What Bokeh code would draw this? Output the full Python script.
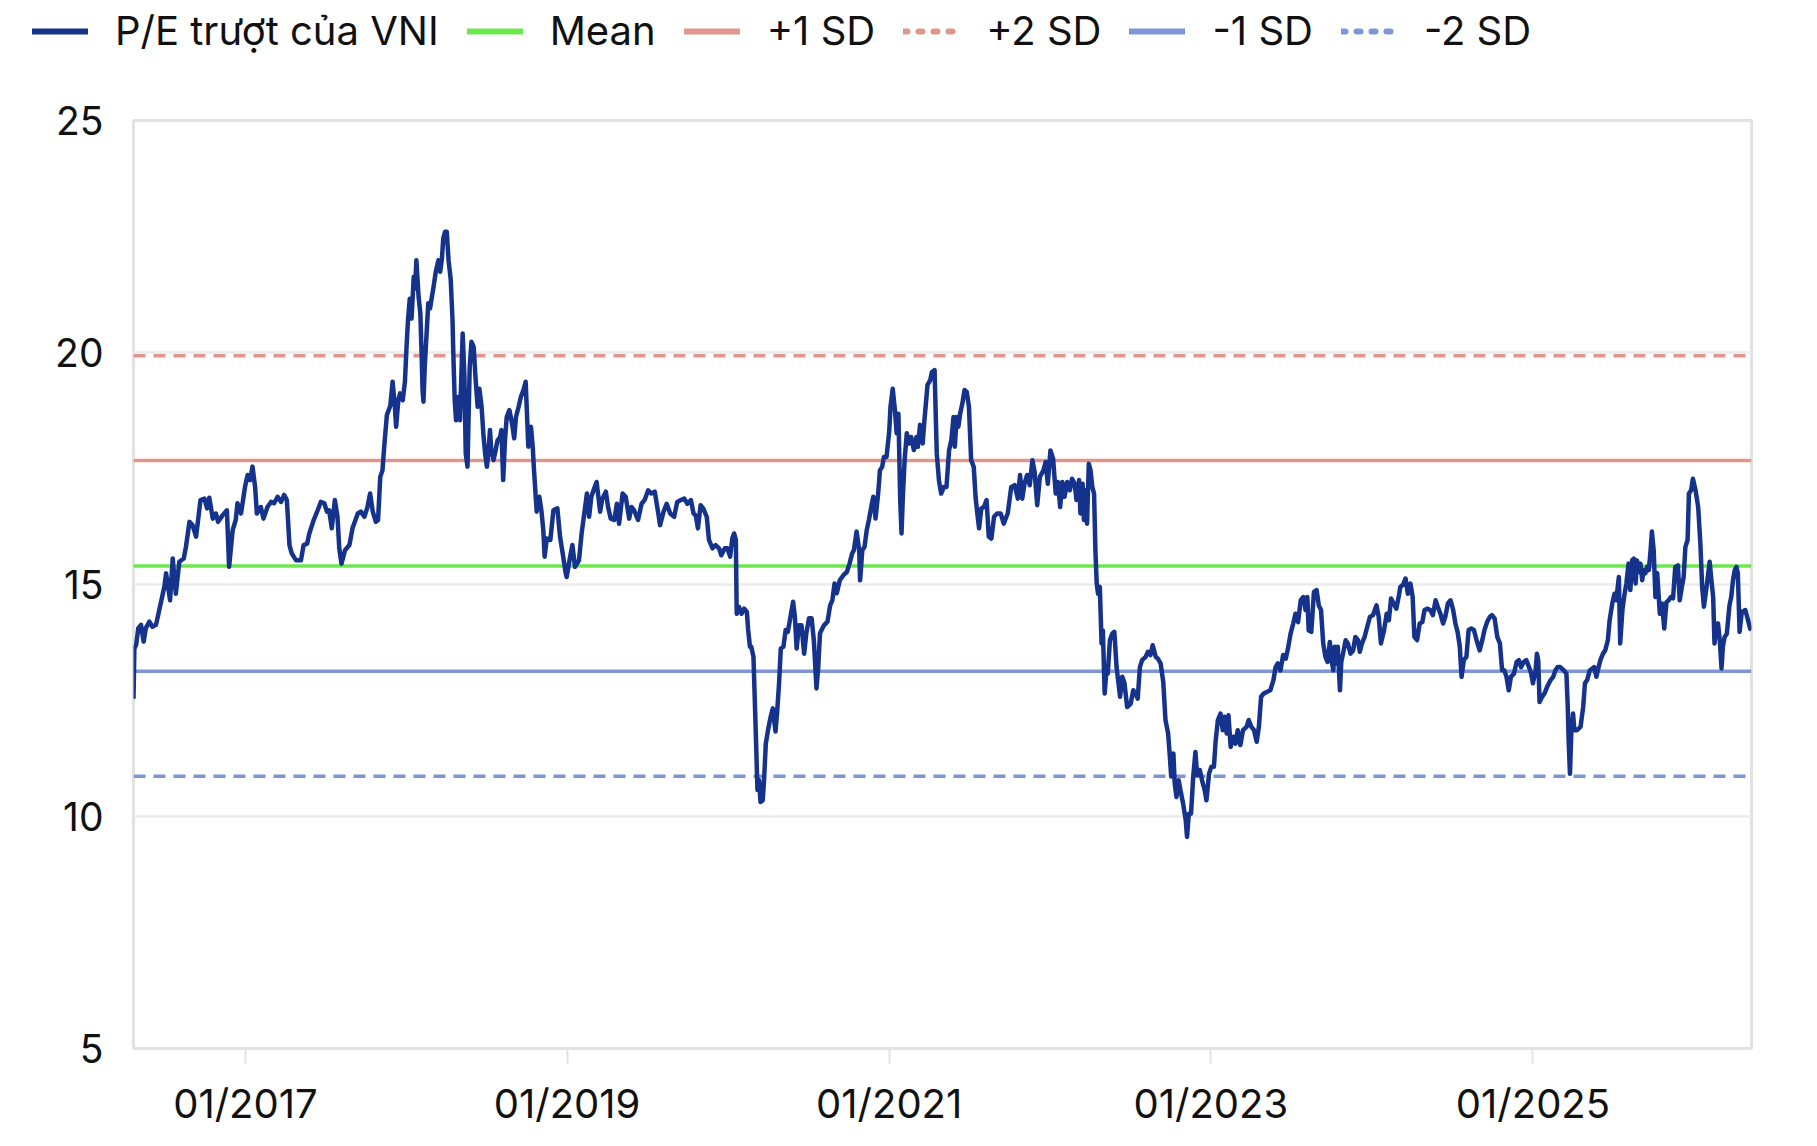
import pandas as pd
from bokeh.plotting import figure
from bokeh.layouts import column
from bokeh.models import (Range1d, FixedTicker, Legend, LegendItem,
                          DatetimeTickFormatter)
from bokeh.embed import file_html
from bokeh.resources import INLINE

# ---------------- data ----------------
base_date = "2017-01-01"   # day offsets below are counted from this date

pe_days = [
    -254, -252, -248, -243, -237, -231, -226, -218, -211, -203,
    -199, -184, -180, -171, -165, -158, -150, -140, -135, -127, -120, -112, -102, -93, -87,
    -82, -74, -67, -62, -52, -42, -37, -29, -22, -18, -10, -1, 5, 11, 16, 22, 26, 35, 41,
    50, 58, 65, 73, 81, 88, 94, 100, 105, 115, 126, 132, 140, 145, 155, 164, 171, 179, 185,
    190, 196, 203, 209, 213, 218, 226, 236, 243, 255, 262, 270, 277, 283, 289, 296, 301,
    306, 311, 315, 321, 329, 334, 339, 342, 347, 351, 357, 362, 366, 369, 373, 377, 382,
    385, 388, 393, 397, 400, 402, 404, 407, 412, 415, 419, 422, 427, 432, 438, 442, 446,
    449, 453, 457, 461, 466, 470, 472, 475, 478, 483, 487, 493, 497, 500, 504, 509, 513,
    518, 522, 527, 531, 536, 540, 544, 548, 552, 555, 558, 563, 568, 572, 578, 581, 585,
    589, 593, 599, 605, 610, 614, 620, 625, 631, 636, 642, 648, 652, 655, 661, 667, 672,
    676, 679, 684, 692, 699, 708, 714, 720, 727,
    729, 737, 742, 748, 757, 763, 769, 775, 780, 785, 790, 797, 805, 810, 818, 823, 829,
    837, 843, 848, 856, 863, 871, 876, 882, 891, 899, 906, 914, 921, 929, 937, 941, 949,
    956, 964, 973, 980, 988, 996, 1003, 1011, 1017, 1022, 1027, 1033, 1039, 1047, 1052,
    1060, 1067, 1075, 1080, 1088, 1094, 1100, 1105, 1109, 1113, 1115, 1120, 1126, 1132,
    1138, 1141, 1145, 1148, 1153, 1156, 1159, 1162, 1166, 1169, 1174, 1177, 1181, 1186,
    1192, 1197, 1203, 1207, 1211, 1215, 1221, 1226, 1231, 1237, 1243, 1247, 1251, 1256,
    1262, 1268, 1273, 1279, 1285, 1290, 1296, 1300, 1304, 1313, 1321, 1327, 1332, 1337,
    1342, 1349, 1357, 1365, 1371, 1377, 1381, 1387, 1393, 1395, 1400, 1405, 1410, 1415,
    1421, 1425, 1430, 1436, 1440, 1445, 1449, 1455, 1461, 1464, 1469, 1474, 1478, 1482,
    1486, 1489, 1492, 1496, 1501, 1506, 1511, 1517, 1523, 1526, 1531, 1537, 1541, 1548,
    1554, 1558, 1564, 1569, 1574, 1579, 1585, 1591, 1597, 1602, 1607, 1610, 1614, 1618,
    1622, 1627, 1632, 1637, 1642, 1647, 1653, 1657, 1661, 1665, 1670, 1676, 1682, 1687,
    1693, 1699, 1706, 1714, 1721, 1727,
    1730, 1738, 1746, 1753, 1758, 1763, 1768, 1774, 1780, 1786, 1791, 1797, 1803, 1811,
    1816, 1821, 1827, 1833, 1839, 1844, 1849, 1854, 1859, 1865, 1871, 1876, 1882, 1886,
    1892, 1895, 1900, 1903, 1907, 1910, 1914, 1918, 1922, 1926, 1929, 1932, 1935, 1939,
    1943, 1946, 1950, 1954, 1957, 1962, 1967, 1972, 1977, 1985, 1990, 1995, 2001, 2009,
    2015, 2020, 2025, 2030, 2035, 2043, 2048, 2054, 2059, 2066, 2071, 2077, 2083, 2088,
    2094, 2098, 2101, 2106, 2109, 2113, 2118, 2122, 2128, 2134, 2137, 2141, 2146, 2151,
    2156, 2160, 2166, 2171, 2177, 2181, 2187, 2192, 2198, 2202, 2207, 2213, 2218, 2222,
    2227, 2231, 2236, 2242, 2247, 2252, 2258, 2264, 2272, 2277, 2283, 2289, 2295, 2300,
    2305, 2311, 2319, 2326, 2333, 2338, 2343, 2349, 2355, 2361, 2366, 2372, 2378, 2383,
    2389, 2395, 2401, 2406, 2410, 2413, 2419, 2425, 2431, 2436, 2441, 2446, 2451, 2456,
    2461, 2465, 2469, 2472, 2476, 2479, 2484, 2487, 2491, 2497, 2502, 2508, 2514, 2519,
    2525, 2529, 2534, 2540, 2546, 2552, 2559, 2567, 2572, 2577, 2584, 2590, 2595, 2600,
    2606, 2612, 2618, 2621, 2627, 2633, 2638, 2644, 2649, 2653, 2659, 2665, 2671, 2676,
    2682, 2689, 2695, 2701, 2706, 2712, 2718, 2723, 2729,
    2735, 2741, 2746, 2751, 2756, 2760, 2765, 2771, 2776, 2782, 2788, 2794, 2801, 2807,
    2812, 2818, 2824, 2829, 2835, 2841, 2847, 2852, 2857, 2862, 2867, 2872, 2879, 2885,
    2890, 2895, 2901, 2907, 2913, 2918, 2922, 2928, 2931, 2934, 2937, 2943, 2948, 2954,
    2962, 2968, 2973, 2978, 2984, 2992, 2998, 3001, 3003, 3006, 3009, 3013, 3016, 3022,
    3030, 3036, 3040, 3045, 3051, 3056, 3061, 3066, 3071, 3075, 3081, 3086, 3092, 3096,
    3102, 3107, 3111, 3117, 3120, 3125, 3130, 3134, 3139, 3143, 3147, 3151, 3155, 3158,
    3162, 3166, 3170, 3173, 3177, 3181, 3185, 3189, 3192, 3196, 3200, 3204, 3210, 3215,
    3220, 3225, 3230, 3235, 3240, 3245, 3251, 3255, 3260, 3264, 3268, 3273, 3276, 3281,
    3285, 3291, 3297, 3302, 3306, 3310, 3313, 3317, 3323, 3327, 3331, 3334, 3338, 3342,
    3346, 3350, 3353, 3357, 3362, 3368, 3372, 3376, 3380, 3384, 3387, 3391, 3396, 3404,
    3409, 3415, 3418,
]

pe_values = [
    12.54, 13.62, 13.70, 14.06, 14.13, 13.77, 14.06, 14.20, 14.09, 14.13,
    14.30, 14.95, 15.24, 14.66, 15.56, 14.80, 15.49, 15.56, 15.81, 16.35, 16.28, 16.03, 16.82, 16.85, 16.64,
    16.87, 16.42, 16.53, 16.35, 16.49, 16.60, 15.38, 16.17, 16.39, 16.75, 16.53, 17.10, 17.36, 17.25, 17.54, 17.10, 16.53, 16.67, 16.42,
    16.67, 16.78, 16.75, 16.89, 16.78, 16.93, 16.82, 15.85, 15.67, 15.52, 15.52, 15.85, 15.88, 16.10, 16.39, 16.60, 16.78, 16.75, 16.57,
    16.60, 16.21, 16.82, 16.46, 15.78, 15.45, 15.74, 15.85, 16.21, 16.53, 16.57, 16.46, 16.67, 16.96, 16.57, 16.35, 16.39,
    17.32, 17.46, 17.97, 18.65, 18.86, 19.37, 18.86, 18.40, 18.97, 19.12, 18.97, 19.37, 20.19, 20.70, 21.16, 20.73, 21.63,
    21.38, 21.99, 21.20, 20.84, 19.91, 19.19, 18.94, 19.69, 20.55, 21.06, 20.95, 21.13, 21.42, 21.74, 21.99, 21.74, 22.03,
    22.46, 22.60, 22.60, 21.99, 21.56, 20.70, 19.91, 18.97, 18.54, 19.04, 18.54, 20.41, 19.48, 17.82, 17.54, 19.69, 20.23,
    20.12, 19.48, 18.83, 19.22, 18.83, 18.25, 17.82, 17.54, 17.90, 18.33, 17.90, 17.68, 17.90, 18.10, 18.18, 18.33, 17.25,
    18.10, 18.61, 18.76, 18.47, 18.15, 18.61, 18.83, 19.04, 19.19, 19.37, 17.97, 18.40, 17.97, 17.46, 16.57, 16.89, 16.57,
    16.17, 15.60, 15.99, 15.96, 16.60, 16.64, 16.03, 15.67, 15.24,
    15.16, 15.60, 15.85, 15.38, 15.52, 16.10, 16.53, 16.96, 16.46, 16.89, 17.03, 17.21, 16.57, 16.85, 17.00, 16.67, 16.42,
    16.39, 16.74, 16.31, 16.96, 16.89, 16.42, 16.67, 16.60, 16.39, 16.74, 16.82, 17.03, 16.96, 17.00, 16.53, 16.28, 16.57,
    16.74, 16.53, 16.46, 16.78, 16.82, 16.85, 16.74, 16.82, 16.53, 16.49, 16.21, 16.71, 16.64, 16.46, 15.96,
    15.78, 15.85, 15.78, 15.63, 15.78, 15.78, 15.60, 15.99, 16.10, 15.96, 14.37, 14.52, 14.37, 14.48,
    14.41, 14.02, 13.66, 13.66, 13.44, 12.51, 11.57, 10.57, 10.78, 10.31, 10.35, 10.78, 11.57, 11.86,
    12.15, 12.33, 11.83, 12.29, 12.86, 13.62, 13.66, 14.02, 13.98, 14.30, 14.63, 14.30, 13.62, 14.12,
    14.12, 13.51, 13.95, 14.27, 14.27, 13.80, 12.76, 13.22, 13.95, 14.12, 14.20, 14.55, 14.66, 15.02,
    14.81, 15.09, 15.20, 15.27, 15.45, 15.67, 15.74, 16.14, 15.74, 15.09, 15.74, 15.81, 16.17, 16.39,
    16.71, 16.89, 16.42, 16.96, 17.46, 17.53, 17.75, 17.75, 18.29, 18.83, 19.22, 18.76, 18.26, 18.68,
    16.82, 16.10, 16.89, 17.68, 18.26, 18.04, 18.18, 17.90, 18.18, 17.97, 18.44, 18.04, 18.54, 19.30,
    19.40, 19.58, 19.62, 17.82, 17.24, 16.96, 17.10, 17.10, 17.90, 18.11, 18.61, 17.97, 18.61, 18.40,
    18.68, 18.90, 19.19, 19.15, 18.83, 17.68, 17.53, 16.89, 16.53, 16.21, 16.64, 16.67, 16.82, 16.03,
    15.99, 16.46, 16.53, 16.53, 16.31, 16.46,
    16.53, 17.10, 17.14, 16.85, 17.36, 16.85, 17.17, 17.36, 17.14, 17.68, 17.43, 16.71, 17.32, 17.46,
    17.64, 17.17, 17.89, 17.71, 16.96, 17.21, 16.67, 17.21, 16.89, 17.21, 17.03, 17.28, 17.17, 16.82,
    17.25, 16.53, 17.17, 16.39, 17.03, 16.31, 17.60, 17.46, 17.10, 16.96, 15.74, 15.02, 14.80, 14.95,
    13.73, 14.01, 12.65, 13.15, 13.08, 13.80, 13.94, 13.98, 13.22, 12.58, 13.01, 12.87, 12.36, 12.43,
    12.72, 12.65, 12.54, 13.22, 13.37, 13.44, 13.55, 13.48, 13.69, 13.44, 13.40, 13.30, 12.90, 12.08,
    11.79, 11.29, 10.86, 11.36, 10.71, 10.42, 10.78, 10.57, 10.28, 9.92, 9.56, 10.06, 10.06, 10.86,
    11.39, 10.89, 11.00, 10.78, 10.57, 10.35, 10.93, 11.07, 11.07, 11.64, 12.08, 12.22, 11.86, 12.15,
    11.79, 12.18, 11.50, 11.72, 11.57, 11.86, 11.54, 11.86, 11.93, 12.08, 11.93, 11.86, 11.61, 11.93,
    12.58, 12.65, 12.69, 12.72, 12.94, 13.22, 13.30, 13.15, 13.48, 13.40, 13.62, 13.94, 14.16, 14.37,
    14.19, 14.66, 14.73, 14.45, 14.73, 14.01, 13.98, 14.84, 14.88, 14.55, 14.45, 13.73, 13.44, 13.33,
    13.76, 13.37, 13.15, 13.66, 13.30, 13.66, 12.72, 13.33, 13.51, 13.80, 13.73, 13.51, 13.58, 13.87,
    13.80, 13.55, 13.73, 13.87, 14.09, 14.30, 14.34, 14.55, 14.30, 13.73, 14.01, 14.37, 14.23, 14.70,
    14.59, 14.48, 14.77, 14.95, 14.99, 15.13, 14.80, 15.02, 14.73, 13.87, 13.80, 14.16, 14.19, 14.45,
    14.48, 14.45, 14.34, 14.66, 14.52, 14.37, 14.16, 14.30, 14.59,
    14.66, 14.45, 14.16, 13.98, 13.66, 13.01, 13.37, 13.44, 14.02, 14.05, 14.02, 13.80, 13.58, 13.80,
    14.02, 14.19, 14.30, 14.34, 14.27, 13.87, 13.73, 13.15, 13.15, 13.01, 12.72, 13.01, 13.08, 13.33,
    13.37, 13.22, 13.33, 13.37, 13.22, 13.08, 12.87, 13.15, 13.51, 13.37, 12.47, 12.58, 12.65, 12.79,
    12.94, 13.01, 13.15, 13.22, 13.22, 13.15, 13.08, 12.36, 11.64, 10.92, 11.79, 12.22, 11.86, 11.86,
    11.93, 12.36, 12.87, 12.94, 13.15, 13.18, 13.22, 13.01, 13.22, 13.37, 13.51, 13.58, 13.80, 14.23,
    14.59, 14.80, 14.66, 15.16, 13.73, 14.45, 14.80, 15.02, 15.45, 14.88, 15.52, 15.56, 15.02, 15.52,
    15.27, 15.45, 15.09, 15.31, 15.24, 15.38, 15.31, 15.74, 16.14, 15.74, 14.73, 15.24, 14.37, 14.59,
    14.05, 14.62, 14.66, 14.73, 14.70, 15.38, 15.41, 14.66, 14.95, 15.16, 15.81, 15.96, 16.96, 17.03,
    17.28, 17.03, 16.67, 15.88, 14.95, 14.52, 14.73, 15.02, 15.49, 15.09, 14.73, 13.73, 14.09, 14.16,
    13.80, 13.19, 13.66, 13.87, 13.94, 14.55, 14.73, 15.09, 15.31, 15.38, 15.24, 13.98, 14.41, 14.45,
    14.27, 14.05, 14.02,
]

series_label = "P/E trượt của VNI"
band_labels = ["Mean", "+1 SD", "+2 SD", "-1 SD", "-2 SD"]
band_levels = [15.40, 17.67, 19.93, 13.13, 10.87]

y_ticks = [5, 10, 15, 20, 25]
x_tick_dates = ["2017-01-01", "2019-01-01", "2021-01-01", "2023-01-01", "2025-01-01"]
x_tick_labels = ["01/2017", "01/2019", "01/2021", "01/2023", "01/2025"]

# ---------------- styles ----------------
FONT = "Inter"
PE_COLOR = "#15338C"
band_colors = ["#6DE84C", "#E0968C", "#E0968C", "#7D96D7", "#7D96D7"]
band_dashes = ["solid", "solid", "12 8", "solid", "12 8"]
legend_dashes = ["solid", "solid", "4 11", "solid", "4 11"]

dates = pd.Timestamp(base_date) + pd.to_timedelta(pe_days, unit="D")
x0, x1 = dates.min(), dates.max()


def no_frame_align(fig):
    if "frame_align" in fig.properties():
        fig.frame_align = False


# ---------------- legend strip ----------------
# Same series drawn again, but the strip's y-range keeps them out of view:
# only their legend glyphs are seen.
leg = figure(width=1817, height=90, output_backend="svg", toolbar_location=None,
             x_range=Range1d(x0, x1), y_range=Range1d(100, 101),
             x_axis_location=None, y_axis_location=None,
             min_border=0)
no_frame_align(leg)
leg.outline_line_color = None
leg.grid.visible = False
leg.background_fill_color = "white"
leg.border_fill_color = "white"

legend_items = []
r_pe = leg.line(x=dates, y=pe_values, line_color=PE_COLOR, line_width=6, line_cap="round")
legend_items.append(LegendItem(label=series_label, renderers=[r_pe]))
for lbl, lvl, col, dash in zip(band_labels, band_levels, band_colors, legend_dashes):
    r = leg.line(x=[x0, x1], y=[lvl, lvl], line_color=col, line_width=6,
                 line_dash=dash, line_cap="round")
    legend_items.append(LegendItem(label=lbl, renderers=[r]))

legend = Legend(items=legend_items, orientation="horizontal",
                location=(32, 35), glyph_width=56, glyph_height=20,
                label_standoff=27, spacing=28, padding=0, margin=0,
                label_text_font=FONT, label_text_font_size="40px",
                label_text_color="#111111", border_line_color=None,
                background_fill_alpha=0)
leg.add_layout(legend)

# ---------------- main chart ----------------
p = figure(width=1817, height=1056, x_axis_type="datetime",
           output_backend="svg", toolbar_location=None,
           x_range=Range1d(x0, x1), y_range=Range1d(y_ticks[0], y_ticks[-1]),
           min_border_left=133, min_border_right=66,
           min_border_top=30, min_border_bottom=98)
no_frame_align(p)
p.background_fill_color = "white"
p.border_fill_color = "white"
p.outline_line_color = "#e2e2e2"
p.outline_line_width = 3

for lbl, lvl, col, dash in zip(band_labels, band_levels, band_colors, band_dashes):
    p.line(x=[x0, x1], y=[lvl, lvl], line_color=col, line_width=3.5, line_dash=dash)

p.line(x=dates, y=pe_values, line_color=PE_COLOR, line_width=4.5, line_join="round")

tick_ms = [int(pd.Timestamp(d).value // 10**6) for d in x_tick_dates]
xa = p.xaxis[0]
xa.ticker = FixedTicker(ticks=tick_ms)
xa.formatter = DatetimeTickFormatter(years="%m/%Y", months="%m/%Y", days="%m/%Y",
                                     hours="%m/%Y", minutes="%m/%Y", seconds="%m/%Y",
                                     milliseconds="%m/%Y", microseconds="%m/%Y")
xa.major_label_overrides = {ms: lab for ms, lab in zip(tick_ms, x_tick_labels)}
xa.axis_line_color = None
xa.major_tick_in = 0
xa.major_tick_out = 15
xa.major_tick_line_color = "#e2e2e2"
xa.major_tick_line_width = 2
xa.minor_tick_line_color = None
xa.major_label_standoff = 15
xa.major_label_text_font = FONT
xa.major_label_text_font_size = "40px"
xa.major_label_text_color = "#111111"

ya = p.yaxis[0]
ya.ticker = FixedTicker(ticks=y_ticks)
ya.axis_line_color = None
ya.major_tick_in = 0
ya.major_tick_out = 0
ya.minor_tick_line_color = None
ya.major_label_standoff = 30
ya.major_label_text_font = FONT
ya.major_label_text_font_size = "39px"
ya.major_label_text_color = "#111111"

p.xgrid.visible = False
p.ygrid.grid_line_color = "#ececec"
p.ygrid.grid_line_width = 2.5

layout = column(leg, p, spacing=0)
open("out.html", "w").write(file_html(layout, INLINE))
